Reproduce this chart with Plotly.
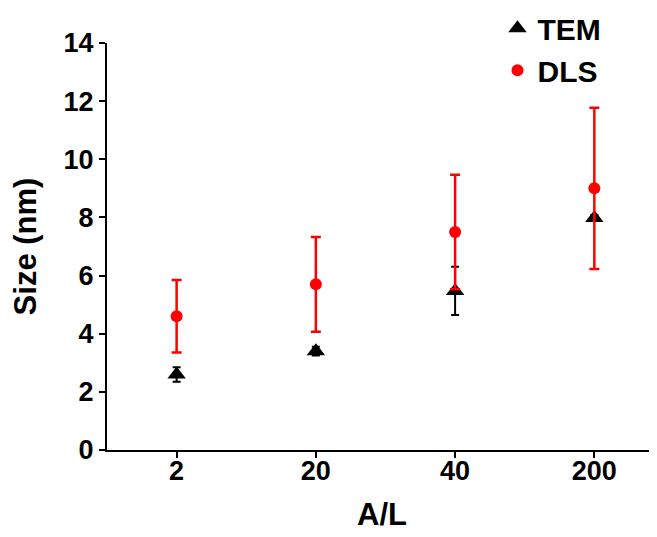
import plotly.graph_objects as go

categories = ["2", "20", "40", "200"]
tem_values = [2.6, 3.4, 5.47, 7.98]
tem_errors = [0.25, 0.15, 0.83, 0.1]
dls_values = [4.6, 5.7, 7.5, 9.0]
dls_errors = [1.25, 1.63, 1.97, 2.77]
y_ticks = [0, 2, 4, 6, 8, 10, 12, 14]

FONT = "Arial, Liberation Sans, sans-serif"

fig = go.Figure()
fig.add_trace(go.Scatter(
    x=categories, y=tem_values, mode="markers", name="TEM",
    marker=dict(symbol="triangle-up", size=16, color="black"),
    error_y=dict(type="data", array=tem_errors, visible=True,
                 color="black", thickness=2, width=4),
))
fig.add_trace(go.Scatter(
    x=categories, y=dls_values, mode="markers", name="DLS",
    marker=dict(symbol="circle", size=12, color="#ff0000"),
    error_y=dict(type="data", array=dls_errors, visible=True,
                 color="#ff0000", thickness=2.5, width=5),
))

fig.update_layout(
    width=649, height=529,
    margin=dict(l=99, r=0, t=35, b=87, autoexpand=False),
    plot_bgcolor="white", paper_bgcolor="white",
    font=dict(family=FONT, color="black", size=27, weight="bold"),
    legend=dict(x=0.71, y=1.10, xanchor="left", yanchor="top",
                bgcolor="rgba(0,0,0,0)", tracegroupgap=0,
                font=dict(family=FONT, size=30, weight="bold")),
    showlegend=True,
)
fig.update_xaxes(
    type="category", categoryorder="array", categoryarray=categories,
    range=[-0.5, 3.45], automargin=False,
    showline=True, linecolor="black", linewidth=2,
    ticks="outside", ticklen=6, tickwidth=2, tickcolor="black",
    showgrid=False, zeroline=False, ticklabelstandoff=-10,
    tickfont=dict(family=FONT, size=27, weight="bold"),
    title=dict(text="A/L", font=dict(family=FONT, size=31, weight="bold"), standoff=18),
)
fig.update_yaxes(
    range=[0, 14], tickvals=y_ticks, automargin=False,
    showline=True, linecolor="black", linewidth=2,
    ticks="outside", ticklen=6, tickwidth=2, tickcolor="black",
    showgrid=False, zeroline=False,
    tickfont=dict(family=FONT, size=27, weight="bold"),
    title=dict(text="Size (nm)", font=dict(family=FONT, size=31, weight="bold"), standoff=20),
)

fig.write_html("out.html")
